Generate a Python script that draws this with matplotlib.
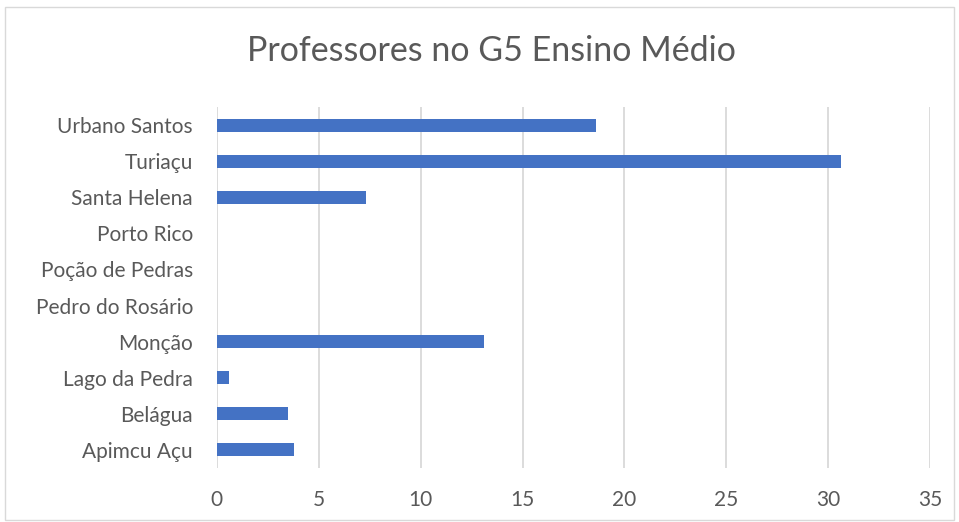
import matplotlib.pyplot as plt
from matplotlib.patches import Rectangle

# data
municipios = ["Apimcu Açu", "Belágua", "Lago da Pedra", "Monção", "Pedro do Rosário",
              "Poção de Pedras", "Porto Rico", "Santa Helena", "Turiaçu", "Urbano Santos"]
professores = [3.8, 3.5, 0.6, 13.1, 0, 0, 0, 7.3, 30.6, 18.6]
xticks = [0, 5, 10, 15, 20, 25, 30, 35]

plt.rcParams['font.family'] = ['Lato', 'DejaVu Sans']
cinza = '#595959'

fig = plt.figure(figsize=(9.59, 5.22), dpi=100)
ax = fig.add_axes([0.226, 0.1034, 0.744, 0.6916])

ax.barh(range(len(municipios)), professores, height=0.36, color='#4472C4', zorder=3)
ax.set_yticks(range(len(municipios)))
ax.set_yticklabels(municipios)
ax.set_ylim(-0.5, len(municipios) - 0.5)
ax.set_xlim(0, 35)
ax.set_xticks(xticks)
ax.grid(axis='x', color='#d9d9d9', linewidth=1.3, zorder=0)
for s in ax.spines.values():
    s.set_visible(False)
ax.tick_params(axis='both', length=0, labelsize=15, colors=cinza)
ax.tick_params(axis='y', pad=17)
ax.tick_params(axis='x', pad=16)

fig.text(0.512, 0.902, "Professores no G5 Ensino Médio", ha='center', va='center',
         fontsize=24.5, color=cinza)

fig.patches.append(Rectangle((0.005, 0.004), 0.99, 0.983, transform=fig.transFigure,
                             fill=False, edgecolor='#d9d9d9', linewidth=1))

fig.savefig("out.png", dpi=100)
